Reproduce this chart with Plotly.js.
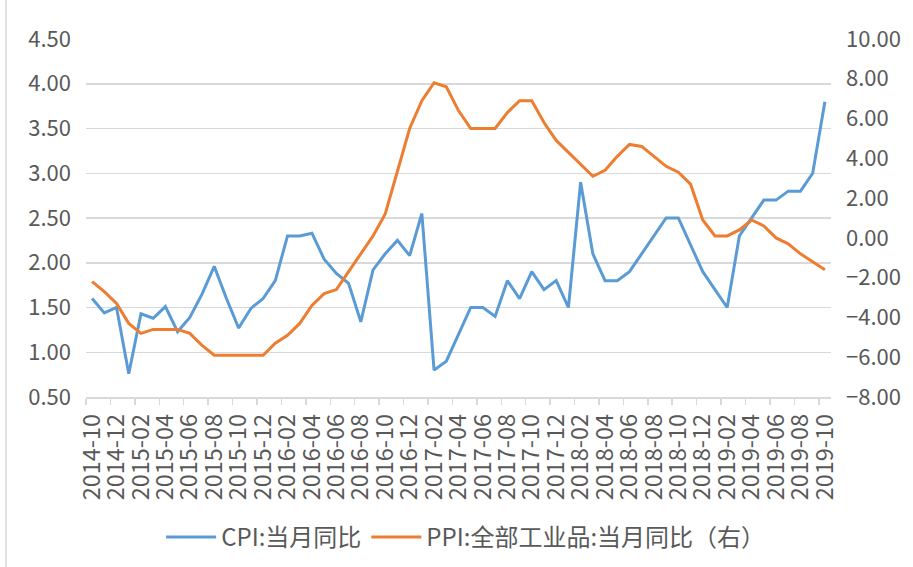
<!DOCTYPE html>
<html>
<head>
<meta charset="utf-8">
<script src="https://cdn.plot.ly/plotly-3.0.1.min.js"></script>
<style>
html,body{margin:0;padding:0;background:#fff;}
#chart{width:913px;height:567px;}
</style>
</head>
<body>
<div id="chart"></div>
<script>
// Months 2014-10 .. 2019-10
const months = [
 "2014-10","2014-11","2014-12",
 "2015-01","2015-02","2015-03","2015-04","2015-05","2015-06","2015-07","2015-08","2015-09","2015-10","2015-11","2015-12",
 "2016-01","2016-02","2016-03","2016-04","2016-05","2016-06","2016-07","2016-08","2016-09","2016-10","2016-11","2016-12",
 "2017-01","2017-02","2017-03","2017-04","2017-05","2017-06","2017-07","2017-08","2017-09","2017-10","2017-11","2017-12",
 "2018-01","2018-02","2018-03","2018-04","2018-05","2018-06","2018-07","2018-08","2018-09","2018-10","2018-11","2018-12",
 "2019-01","2019-02","2019-03","2019-04","2019-05","2019-06","2019-07","2019-08","2019-09","2019-10"
];
const cpi = [
 1.6,1.44,1.5,
 0.76,1.43,1.38,1.51,1.23,1.39,1.65,1.96,1.6,1.27,1.49,1.6,
 1.8,2.3,2.3,2.33,2.04,1.88,1.77,1.34,1.92,2.1,2.25,2.08,
 2.55,0.8,0.9,1.2,1.5,1.5,1.4,1.8,1.6,1.9,1.7,1.8,
 1.5,2.9,2.1,1.8,1.8,1.9,2.1,2.3,2.5,2.5,2.2,1.9,
 1.7,1.5,2.3,2.5,2.7,2.7,2.8,2.8,3.0,3.8
];
const ppi = [
 -2.2,-2.7,-3.3,
 -4.3,-4.8,-4.6,-4.6,-4.6,-4.8,-5.4,-5.9,-5.9,-5.9,-5.9,-5.9,
 -5.3,-4.9,-4.3,-3.4,-2.8,-2.6,-1.7,-0.8,0.1,1.2,3.3,5.5,
 6.9,7.8,7.6,6.4,5.5,5.5,5.5,6.3,6.9,6.9,5.8,4.9,
 4.3,3.7,3.1,3.4,4.1,4.7,4.6,4.1,3.6,3.3,2.7,0.9,
 0.1,0.1,0.4,0.9,0.6,0.0,-0.3,-0.8,-1.2,-1.6
];
const seriesNames = ["CPI:当月同比","PPI:全部工业品:当月同比（右）"];

const fontFam = '"Noto Sans CJK SC", "Noto Sans", sans-serif';
const txt = '#595959';

const traces = [
 {x: months, y: cpi, name: seriesNames[0], type:'scatter', mode:'lines',
  line:{color:'#5B9BD5', width:3, shape:'linear'}, yaxis:'y'},
 {x: months, y: ppi, name: seriesNames[1], type:'scatter', mode:'lines',
  line:{color:'#ED7D31', width:3, shape:'linear'}, yaxis:'y2'}
];

const layout = {
 width:913, height:567,
 paper_bgcolor:'#fff', plot_bgcolor:'#fff',
 margin:{l:86, r:82, t:39, b:170},
 font:{family:fontFam, color:txt, size:22},
 showlegend:true,
 legend:{orientation:'h', x:0.51, xanchor:'center', xref:'container', y:0.052, yanchor:'middle', yref:'container',
   font:{size:24, color:txt, family:fontFam}, itemwidth:50, tracegroupgap:0, entrywidth:0},
 xaxis:{
   type:'category', range:[-0.5, 60.5], tickmode:'linear', tick0:0, dtick:2,
   tickson:'boundaries', ticks:'outside', ticklen:6, tickcolor:'#d9d9d9', tickwidth:1.5,
   showgrid:false, showline:true, linecolor:'#d9d9d9', linewidth:1.5,
   tickangle:-90, tickfont:{size:23.5, color:txt, family:fontFam}, ticklabelstandoff:6,
   zeroline:false, fixedrange:true
 },
 yaxis:{
   range:[0.5,4.5], tickmode:'linear', tick0:0.5, dtick:0.5, tickformat:'.2f',
   showgrid:true, gridcolor:'#d9d9d9', gridwidth:1.5, zeroline:false, showline:false,
   ticks:'', tickfont:{size:22, color:txt, family:fontFam}, ticklabelstandoff:14, fixedrange:true
 },
 yaxis2:{
   overlaying:'y', side:'right', range:[-8,10], tickmode:'linear', tick0:-8, dtick:2, tickformat:'.2f',
   showgrid:false, zeroline:false, showline:false, ticks:'',
   tickfont:{size:22, color:txt, family:fontFam}, ticklabelstandoff:14, fixedrange:true
 },
 shapes:[
   {type:'line', xref:'paper', yref:'paper', x0:-0.1074, x1:-0.1074, y0:-0.48, y1:1.12,
    line:{color:'#d9d9d9', width:1.5}, layer:'below'}
 ]
};

Plotly.newPlot('chart', traces, layout, {displayModeBar:false, staticPlot:true});
</script>
</body>
</html>
